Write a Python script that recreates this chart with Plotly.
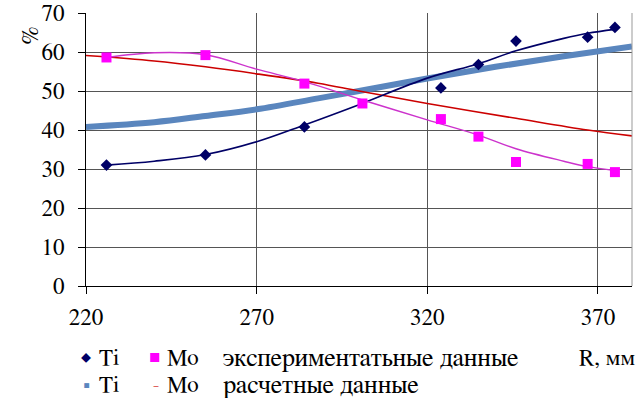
import plotly.graph_objects as go

# experimental points
ti_exp_x = [226, 255, 284, 324, 335, 346, 367, 375]
ti_exp_y = [31.0, 33.6, 40.8, 50.8, 56.8, 62.8, 63.8, 66.3]
mo_exp_x = [226, 255, 284, 301, 324, 335, 346, 367, 375]
mo_exp_y = [58.6, 59.2, 51.9, 46.8, 42.8, 38.3, 31.8, 31.3, 29.2]

ti_fit_x = [226, 240, 255, 270, 284, 300, 320, 335, 346, 360, 367, 375]
ti_fit_y = [31.0, 32.0, 33.7, 37.0, 41.3, 46.5, 53.3, 57.0, 60.3, 63.5, 64.8, 65.8]
mo_fit_x = [226, 240, 255, 270, 284, 301, 320, 335, 346, 360, 367, 375]
mo_fit_y = [58.6, 59.8, 59.3, 55.6, 52.4, 47.7, 42.6, 38.7, 35.2, 32.0, 30.6, 29.6]

# calculated data
ti_calc_x = [220, 240, 255, 270, 288, 300, 320, 340, 360, 380]
ti_calc_y = [40.8, 42.0, 43.6, 45.3, 48.1, 50.0, 53.2, 56.2, 58.9, 61.4]
mo_calc_x = [220, 240, 255, 270, 288, 300, 320, 346, 367, 380]
mo_calc_y = [59.1, 57.7, 56.2, 54.4, 52.0, 50.0, 46.8, 43.0, 40.0, 38.5]

x_ticks = [220, 270, 320, 370]
y_ticks = [0, 10, 20, 30, 40, 50, 60, 70]

FONT = "FreeSerif, Noto Serif, serif"
NAVY = "#000066"
MAGENTA = "#FF00FF"
STEEL = "#5A86BE"
RED = "#CC0000"

fig = go.Figure()
fig.add_trace(go.Scatter(x=ti_calc_x, y=ti_calc_y, mode="lines", line=dict(color=STEEL, width=6, shape="spline")))
fig.add_trace(go.Scatter(x=mo_calc_x, y=mo_calc_y, mode="lines", line=dict(color=RED, width=1.6, shape="spline")))
fig.add_trace(go.Scatter(x=ti_fit_x, y=ti_fit_y, mode="lines", line=dict(color=NAVY, width=1.6, shape="spline")))
fig.add_trace(go.Scatter(x=mo_fit_x, y=mo_fit_y, mode="lines", line=dict(color="#CC33CC", width=1.4, shape="spline")))
fig.add_trace(go.Scatter(x=ti_exp_x, y=ti_exp_y, mode="markers", marker=dict(symbol="diamond", color=NAVY, size=9)))
fig.add_trace(go.Scatter(x=mo_exp_x, y=mo_exp_y, mode="markers", marker=dict(symbol="square", color=MAGENTA, size=10)))

fig.update_layout(
    width=640, height=398,
    margin=dict(l=86, r=8, t=13, b=112, autoexpand=False),
    paper_bgcolor="white", plot_bgcolor="white",
    showlegend=False,
    font=dict(family=FONT, size=23, color="black"),
)
fig.update_xaxes(
    range=[220, 380], tickvals=x_ticks, ticks="outside", ticklen=7, tickcolor="black",
    showgrid=True, gridcolor="#555555", gridwidth=1, automargin=False,
    showline=True, linecolor="black", linewidth=1, mirror=False, zeroline=False,
    tickfont=dict(family=FONT, size=23), ticklabeloverflow="allow", ticklabelstandoff=3,
)
fig.update_yaxes(
    range=[0, 70], tickvals=y_ticks, ticks="outside", ticklen=7, tickcolor="black",
    showgrid=True, gridcolor="#555555", gridwidth=1, automargin=False,
    showline=True, linecolor="black", linewidth=1, zeroline=False,
    tickfont=dict(family=FONT, size=23), ticklabeloverflow="allow", ticklabelstandoff=9,
)
# right border
fig.add_shape(type="line", xref="paper", yref="paper", x0=1, x1=1, y0=0, y1=1, line=dict(color="#999999", width=1))

fig.add_annotation(text="%", xref="paper", yref="paper", x=-0.126, y=0.956, textangle=-90,
                   showarrow=False, font=dict(family=FONT, size=23))

def px2x(p):
    return (p - 86) / 546.0

def py2y(p):
    return -(p - 286) / 273.0

row1, row2 = 358, 385
legend_items = [
    ("◆", 86, row1, NAVY, 10),
    ("Ti", 97, row1, "black", 23),
    ("■", 155, row1, MAGENTA, 13),
    ("Mo", 165, row1, "black", 23),
    ("экспериментатьные данные", 221, row1, "black", 26),
    ("R, мм", 577, row1, "black", 23),
    ("■", 87, row2, STEEL, 7),
    ("Ti", 97, row2, "black", 23),
    ("–", 156, row2, RED, 12),
    ("Mo", 165, row2, "black", 23),
    ("расчетные данные", 221, row2, "black", 26),
]
for txt, px, py, col, sz in legend_items:
    fig.add_annotation(text=txt, xref="paper", yref="paper", x=px2x(px), y=py2y(py),
                       xanchor="left" if sz >= 20 else "center", yanchor="middle",
                       showarrow=False, font=dict(family=FONT, size=sz, color=col))

fig.write_html("out.html", config={"displayModeBar": False},
               post_script="document.body.style.margin='0';document.body.style.overflow='hidden';")
